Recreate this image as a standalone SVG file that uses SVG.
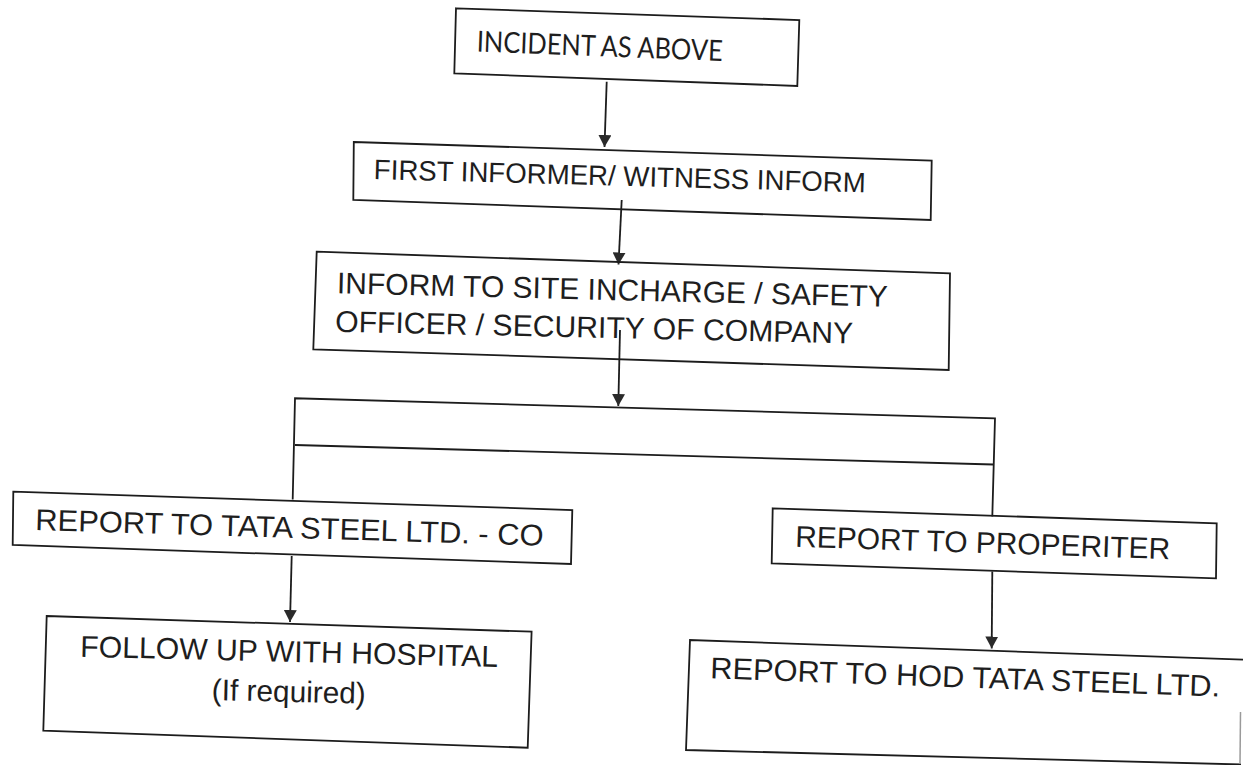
<svg xmlns="http://www.w3.org/2000/svg" width="1243" height="765" viewBox="0 0 1243 765">
<style>
.box{fill:none;stroke:#1c1c1c;stroke-width:1.8;stroke-linejoin:miter}
.t{font-family:"Liberation Sans",Arial,sans-serif;font-size:30px;fill:#1e1e1e}
.tc{font-family:Lato,"Open Sans","Liberation Sans",sans-serif;font-size:29px;fill:#1e1e1e}
.ln{fill:none;stroke:#1c1c1c;stroke-width:1.8}
.ar{fill:none;stroke:#1c1c1c;stroke-width:1.8;marker-end:url(#ah)}
</style>
<defs>
<marker id="ah" viewBox="0 0 12 13" refX="12" refY="6.5" markerWidth="12" markerHeight="13" markerUnits="userSpaceOnUse" orient="auto">
<path d="M0,0 L12,6.5 L0,13 Z" fill="#2a2a2a"/>
</marker>
</defs>
<rect width="1243" height="765" fill="#ffffff"/>
<g id="connectors">
<line class="ar" x1="606.7" y1="81.7" x2="604.5" y2="147"/>
<line class="ar" x1="621.7" y1="200" x2="618.5" y2="264.5"/>
<line class="ar" x1="620" y1="330" x2="618.3" y2="406"/>
<polyline class="ln" points="292.7,499.5 295,398.3 995,418.3 992.3,516.5"/>
<line class="ln" x1="295" y1="445" x2="993.3" y2="464.5"/>
<line class="ar" x1="291.7" y1="556" x2="290" y2="622"/>
<line class="ar" x1="992.3" y1="571.5" x2="991.7" y2="648.5"/>
</g>
<g id="n1">
<polygon class="box" points="456,8.3 799.3,20 797.3,86 454.3,73.3"/>
<text class="tc" x="476.5" y="51.5" textLength="246" lengthAdjust="spacingAndGlyphs" transform="rotate(2.2 476.5 51.5)">INCIDENT AS ABOVE</text>
</g>
<g id="n2">
<polygon class="box" points="353.8,142 931.7,160.5 930.7,220 353.3,200"/>
<text class="t" x="373.6" y="179" style="font-size:28px" textLength="492" lengthAdjust="spacingAndGlyphs" transform="rotate(1.55 373.6 179)">FIRST INFORMER/ WITNESS INFORM</text>
</g>
<g id="n3">
<polygon class="box" points="316.7,251.7 950,273.3 948.7,370 313.3,349.3"/>
<text class="t" x="336.7" y="293.3" textLength="551" lengthAdjust="spacingAndGlyphs" transform="rotate(1.4 336.7 293.3)">INFORM TO SITE INCHARGE / SAFETY</text>
<text class="t" x="335" y="331.7" textLength="518" lengthAdjust="spacingAndGlyphs" transform="rotate(1.3 335 331.7)">OFFICER / SECURITY OF COMPANY</text>
</g>
<g id="n4">
<polygon class="box" points="13.3,491.7 572.3,510 571,564 12.7,545"/>
<text class="t" x="35" y="530" textLength="508.5" lengthAdjust="spacingAndGlyphs" transform="rotate(1.77 35 530)">REPORT TO TATA STEEL LTD. - CO</text>
</g>
<g id="n5">
<polygon class="box" points="772.7,508.3 1216.7,523.3 1216,578.3 771.7,563.3"/>
<text class="t" x="795" y="546.7" textLength="375" lengthAdjust="spacingAndGlyphs" transform="rotate(1.9 795 546.7)">REPORT TO PROPERITER</text>
</g>
<g id="n6">
<polygon class="box" points="46.7,616 531.6,631.7 527.7,747.7 43.3,730.7"/>
<text class="t" x="80" y="656.7" textLength="418" lengthAdjust="spacingAndGlyphs" transform="rotate(1.4 80 656.7)">FOLLOW UP WITH HOSPITAL</text>
<text class="t" x="211.6" y="700" textLength="154" lengthAdjust="spacingAndGlyphs" transform="rotate(1.4 211.6 700)">(If required)</text>
</g>
<g id="n7">
<polyline class="box" points="1243,659.6 690,640 686,750 1241,764.5"/>
<line x1="1240.5" y1="712" x2="1240" y2="764" stroke="#9a9a9a" stroke-width="1.5"/>
<text class="t" x="710" y="678.3" textLength="510" lengthAdjust="spacingAndGlyphs" transform="rotate(2.06 710 678.3)">REPORT TO HOD TATA STEEL LTD.</text>
</g>
</svg>
